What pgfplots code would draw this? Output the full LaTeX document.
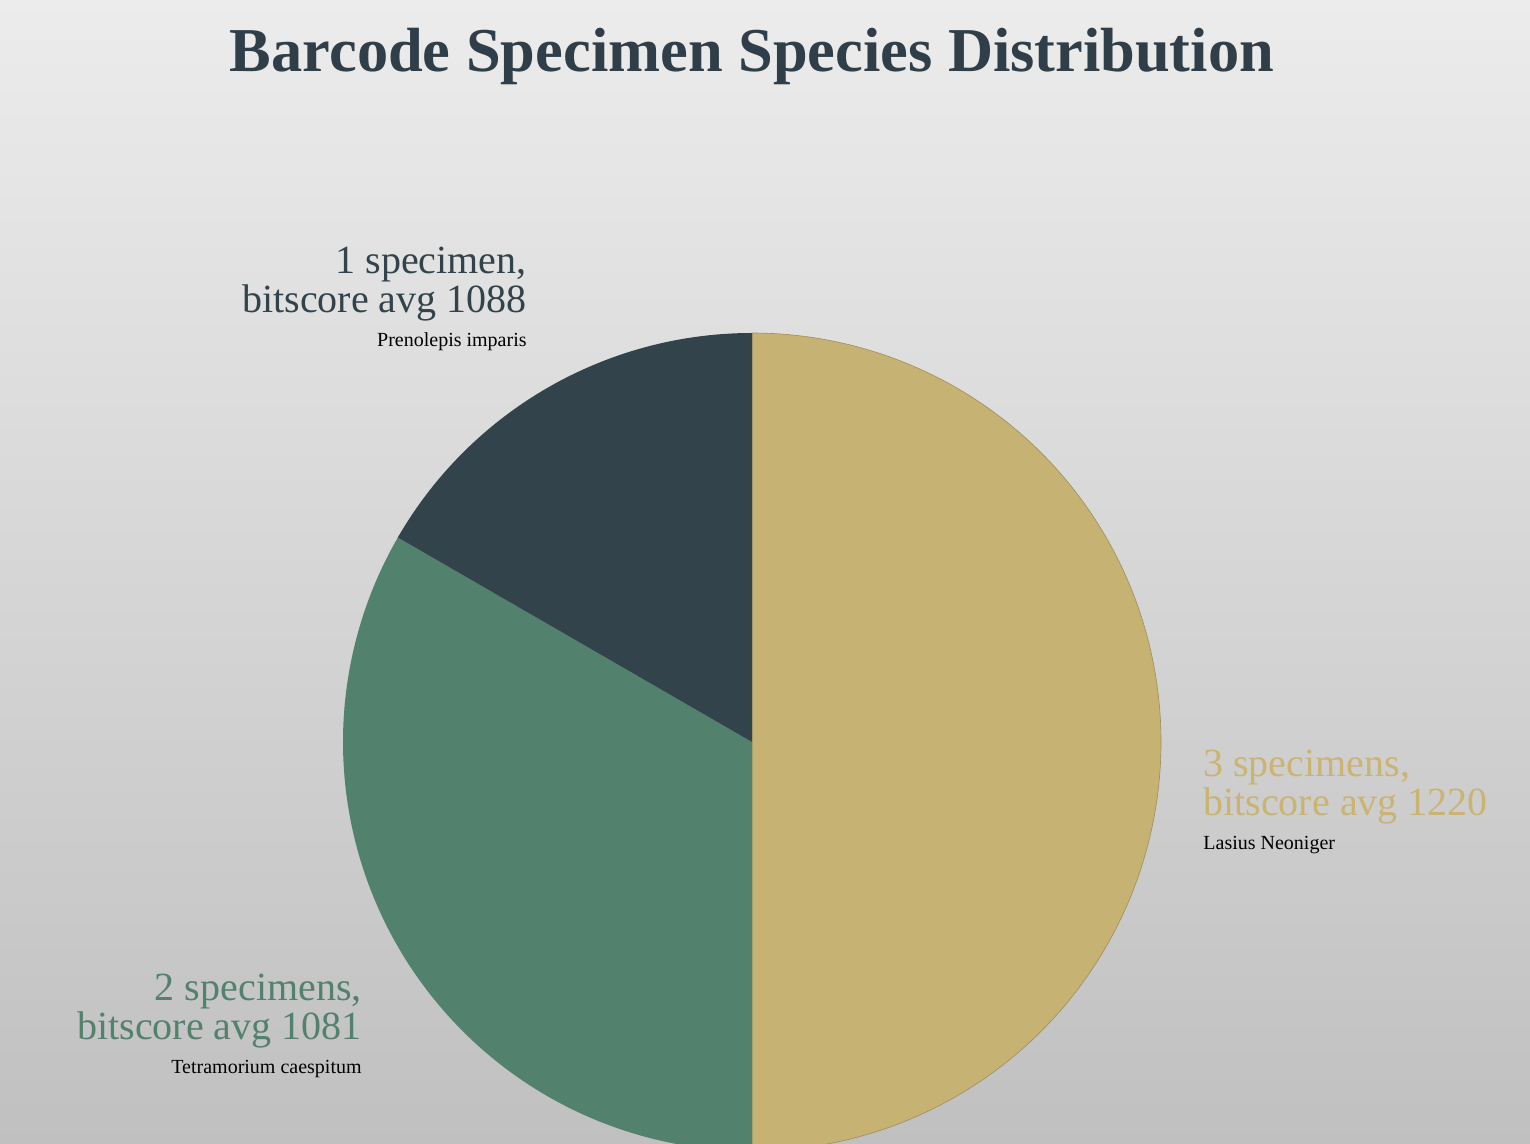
\documentclass[border=0pt]{standalone}
\usepackage{pgfplots}
\pgfplotsset{compat=1.18}
\usepackage{fontspec}
\setmainfont{Liberation Serif}
\definecolor{cgold}{HTML}{C6B273}
\definecolor{cgoldtext}{HTML}{CAB470}
\definecolor{cgreen}{HTML}{52826D}
\definecolor{cdark}{HTML}{32434B}
\definecolor{ctitle}{HTML}{2F3E48}
\definecolor{bgtop}{HTML}{ECECEC}
\definecolor{bgbot}{HTML}{C0C0C0}
% pie values (number of specimens)
\def\va{3}% Lasius Neoniger
\def\vb{2}% Tetramorium caespitum
\def\vc{1}% Prenolepis imparis
\begin{document}
\begin{tikzpicture}
\pgfmathsetmacro\tot{\va+\vb+\vc}
\pgfmathsetmacro\aA{90}
\pgfmathsetmacro\aB{\aA-360*\va/\tot}
\pgfmathsetmacro\aC{\aB-360*\vb/\tot}
\pgfmathsetmacro\aD{\aC-360*\vc/\tot}
\begin{axis}[width=765pt,height=572pt,scale only axis,
  xmin=0,xmax=1530,ymin=0,ymax=1144,y dir=reverse,hide axis,clip=true]
\fill[top color=bgtop,bottom color=bgbot] (axis cs:0,0) rectangle (axis cs:1530,1144);
\addplot[fill=cgold,draw=cgold!80!black,line width=0.3pt,domain=\aA:\aB,samples=181,variable=\t]
  ({752+409*cos(\t)},{742-409*sin(\t)}) -- (axis cs:752,742) -- cycle;
\addplot[fill=cgreen,draw=none,domain=\aB:\aC,samples=121,variable=\t]
  ({752+409*cos(\t)},{742-409*sin(\t)}) -- (axis cs:752,742) -- cycle;
\addplot[fill=cdark,draw=none,domain=\aC:\aD,samples=61,variable=\t]
  ({752+409*cos(\t)},{742-409*sin(\t)}) -- (axis cs:752,742) -- cycle;
% title
\node[anchor=base,font=\rmfamily\bfseries\fontsize{31.2pt}{36pt}\selectfont,text=ctitle,inner sep=0pt] at (axis cs:752,72) {Barcode Specimen Species Distribution};
% labels
\tikzset{big/.style={font=\rmfamily\fontsize{20pt}{24pt}\selectfont,inner sep=0pt},
         small/.style={font=\rmfamily\fontsize{10pt}{12pt}\selectfont,inner sep=0pt,text=black}}
\node[big,anchor=base east,text=cdark] at (axis cs:527,274) {1 specimen,};
\node[big,anchor=base east,text=cdark] at (axis cs:527,313) {bitscore avg 1088};
\node[small,anchor=base east] at (axis cs:527,347) {Prenolepis imparis};
\node[big,anchor=base west,text=cgoldtext] at (axis cs:1203,776) {3 specimens,};
\node[big,anchor=base west,text=cgoldtext] at (axis cs:1203,815) {bitscore avg 1220};
\node[small,anchor=base west] at (axis cs:1203,849) {Lasius Neoniger};
\node[big,anchor=base east,text=cgreen] at (axis cs:362,1000) {2 specimens,};
\node[big,anchor=base east,text=cgreen] at (axis cs:362,1039) {bitscore avg 1081};
\node[small,anchor=base east] at (axis cs:362,1073) {Tetramorium caespitum};
\end{axis}
\end{tikzpicture}
\end{document}
